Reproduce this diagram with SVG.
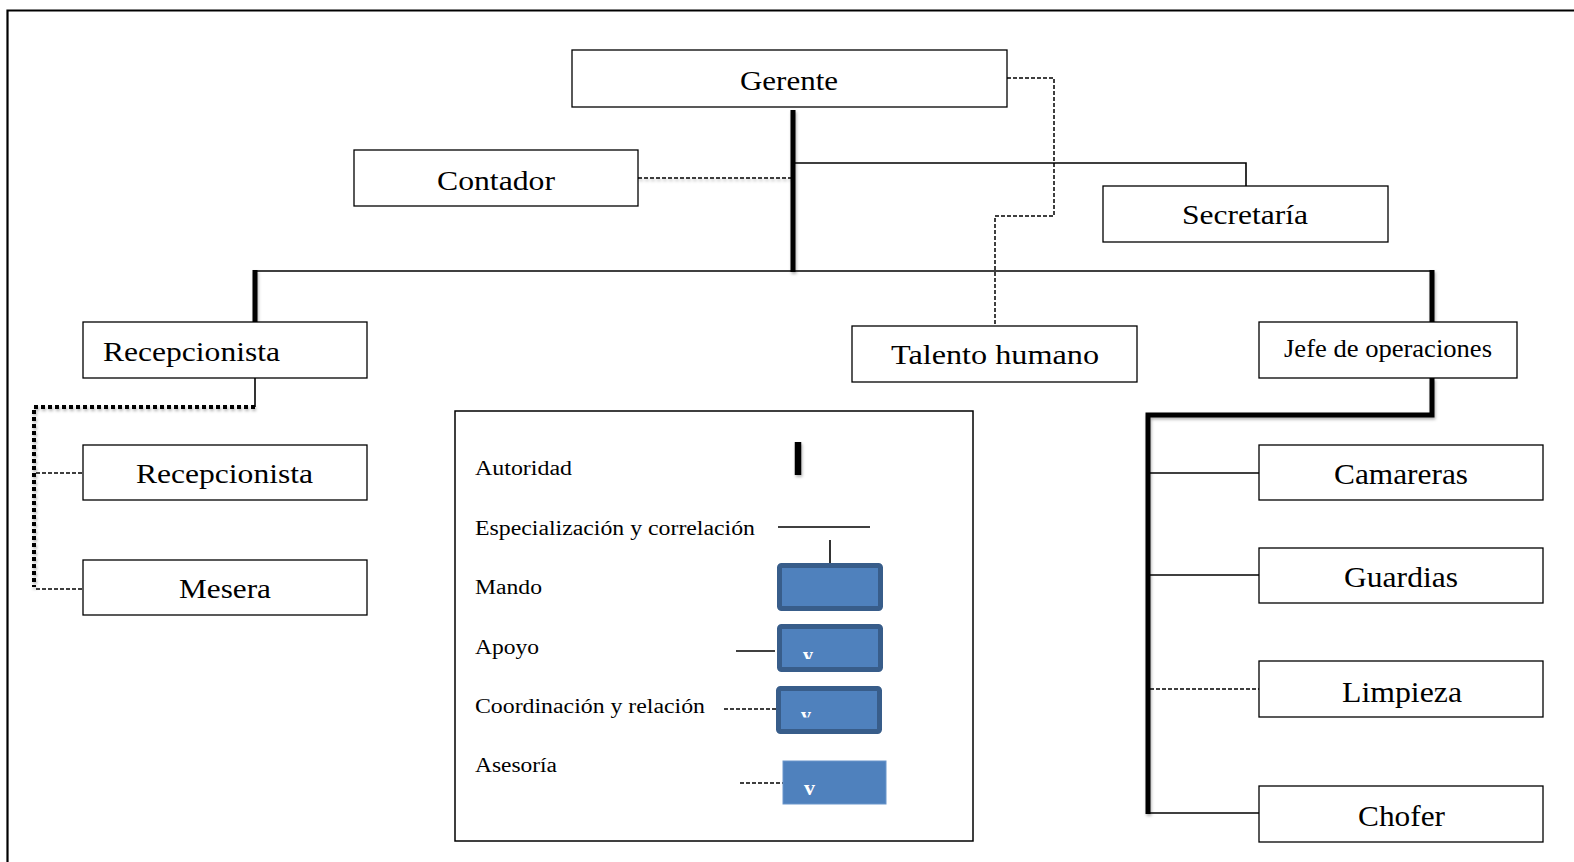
<svg xmlns="http://www.w3.org/2000/svg" width="1574" height="862" viewBox="0 0 1574 862">
  <defs>
    <filter id="shadow" filterUnits="userSpaceOnUse" x="0" y="0" width="1574" height="862">
      <feDropShadow dx="1" dy="2" stdDeviation="1.5" flood-color="#000" flood-opacity="0.3"/>
    </filter>
    <clipPath id="clipApoyo"><rect x="780" y="640" width="100" height="19"/></clipPath>
    <clipPath id="clipCoord"><rect x="780" y="700" width="100" height="17.5"/></clipPath>
  </defs>
  <style>
    .box{fill:#fff;stroke:#000;stroke-width:1.3}
    .lbl{font-family:"Liberation Serif","Times New Roman",serif;fill:#000}
    .big{font-size:28px}
    .leg{font-size:20px}
    .thick{stroke:#000;stroke-width:5;fill:none}
    .thin{stroke:#000;stroke-width:1.6;fill:none}
    .dash{stroke:#000;stroke-width:1.5;fill:none;stroke-dasharray:4 2}
    .dots{stroke:#000;stroke-width:4;fill:none;stroke-dasharray:4 3}
    .sym{fill:#4F81BD;stroke:#385D8A;stroke-width:5}
    .vmark{font-family:"Liberation Serif","Times New Roman",serif;fill:#fff;font-weight:bold}
  </style>

  <rect width="1574" height="862" fill="#fff"/>
  <!-- page frame -->
  <path d="M7.5,862 V10.5 H1574" fill="none" stroke="#000" stroke-width="2.2"/>

  <!-- connectors -->
  <g id="connectors">
    <!-- Gerente trunk and main branch -->
    <path class="thick" d="M793,110 V272" filter="url(#shadow)"/>
    <path class="thin" d="M254,271 H1434"/>
    <path class="thick" d="M255,270 V322" filter="url(#shadow)"/>
    <path class="thick" d="M1432,270 V322" filter="url(#shadow)"/>
    <!-- Secretaría -->
    <path class="thin" d="M795,163 H1246 V186"/>
    <!-- Contador -->
    <path class="dash" d="M638,178 H791" filter="url(#shadow)"/>
    <!-- Gerente to Talento humano -->
    <path class="dash" d="M1007,78 H1054 V216 H995 V326"/>
    <!-- Recepcionista branch -->
    <path class="thin" d="M255,378 V407"/>
    <path class="dots" d="M255,407 H34 V587" filter="url(#shadow)"/>
    <path class="dash" d="M36,473 H83"/>
    <path class="dash" d="M36,589 H83"/>
    <!-- Jefe de operaciones branch -->
    <path class="thick" d="M1432,378 V415 H1148 V814" filter="url(#shadow)"/>
    <path class="thin" d="M1150,473 H1259"/>
    <path class="thin" d="M1150,575 H1259"/>
    <path class="dash" d="M1150,689 H1259"/>
    <path class="thin" d="M1150,813 H1259"/>
  </g>

  <g id="gerente">
    <rect class="box" x="572" y="50" width="435" height="57"/>
    <text class="lbl big" x="740" y="90" textLength="98" lengthAdjust="spacingAndGlyphs">Gerente</text>
  </g>
  <g id="contador">
    <rect class="box" x="354" y="150" width="284" height="56"/>
    <text class="lbl big" x="437" y="190" textLength="118" lengthAdjust="spacingAndGlyphs">Contador</text>
  </g>
  <g id="secretaria">
    <rect class="box" x="1103" y="186" width="285" height="56"/>
    <text class="lbl big" x="1182" y="224" textLength="126" lengthAdjust="spacingAndGlyphs">Secretaría</text>
  </g>
  <g id="recepcionista">
    <rect class="box" x="83" y="322" width="284" height="56"/>
    <text class="lbl big" x="103" y="361" textLength="177" lengthAdjust="spacingAndGlyphs">Recepcionista</text>
  </g>
  <g id="talento-humano">
    <rect class="box" x="852" y="326" width="285" height="56"/>
    <text class="lbl big" x="891" y="364" textLength="208" lengthAdjust="spacingAndGlyphs">Talento humano</text>
  </g>
  <g id="jefe-operaciones">
    <rect class="box" x="1259" y="322" width="258" height="56"/>
    <text class="lbl" font-size="25" x="1284" y="357" textLength="208" lengthAdjust="spacingAndGlyphs">Jefe de operaciones</text>
  </g>
  <g id="recepcionista-2">
    <rect class="box" x="83" y="445" width="284" height="55"/>
    <text class="lbl big" x="136" y="483" textLength="177" lengthAdjust="spacingAndGlyphs">Recepcionista</text>
  </g>
  <g id="mesera">
    <rect class="box" x="83" y="560" width="284" height="55"/>
    <text class="lbl big" x="179" y="598" textLength="92" lengthAdjust="spacingAndGlyphs">Mesera</text>
  </g>
  <g id="camareras">
    <rect class="box" x="1259" y="445" width="284" height="55"/>
    <text class="lbl" font-size="30" x="1334" y="484" textLength="134" lengthAdjust="spacingAndGlyphs">Camareras</text>
  </g>
  <g id="guardias">
    <rect class="box" x="1259" y="548" width="284" height="55"/>
    <text class="lbl" font-size="30" x="1344" y="587" textLength="114" lengthAdjust="spacingAndGlyphs">Guardias</text>
  </g>
  <g id="limpieza">
    <rect class="box" x="1259" y="661" width="284" height="56"/>
    <text class="lbl" font-size="30" x="1342" y="702" textLength="120" lengthAdjust="spacingAndGlyphs">Limpieza</text>
  </g>
  <g id="chofer">
    <rect class="box" x="1259" y="786" width="284" height="56"/>
    <text class="lbl" font-size="30" x="1358" y="826" textLength="87" lengthAdjust="spacingAndGlyphs">Chofer</text>
  </g>

  <!-- legend -->
  <g id="legend">
    <rect x="455" y="411" width="518" height="430" fill="#fff" stroke="#000" stroke-width="1.5"/>
    <text class="lbl leg" x="475" y="475" textLength="97" lengthAdjust="spacingAndGlyphs">Autoridad</text>
    <text class="lbl leg" x="475" y="535" textLength="280" lengthAdjust="spacingAndGlyphs">Especialización y correlación</text>
    <text class="lbl leg" x="475" y="594" textLength="67" lengthAdjust="spacingAndGlyphs">Mando</text>
    <text class="lbl leg" x="475" y="654" textLength="64" lengthAdjust="spacingAndGlyphs">Apoyo</text>
    <text class="lbl leg" x="475" y="713" textLength="230" lengthAdjust="spacingAndGlyphs">Coordinación y relación</text>
    <text class="lbl leg" x="475" y="772" textLength="82" lengthAdjust="spacingAndGlyphs">Asesoría</text>

    <!-- authority -->
    <path d="M798,442 V475" stroke="#000" stroke-width="6.5" filter="url(#shadow)"/>
    <!-- specialisation -->
    <path class="thin" d="M778,527 H870"/>
    <!-- command -->
    <path class="thin" d="M830,540 V565"/>
    <rect class="sym" x="779.5" y="565.5" width="101" height="43" rx="2"/>
    <!-- support -->
    <path class="thin" d="M736,651 H775"/>
    <rect class="sym" x="779.5" y="626.5" width="101" height="43" rx="2"/>
    <text class="vmark" font-size="20" x="803" y="662" clip-path="url(#clipApoyo)">v</text>
    <!-- coordination -->
    <path class="dash" d="M724,709 H777"/>
    <rect class="sym" x="778.5" y="688.5" width="101" height="43" rx="2"/>
    <text class="vmark" font-size="20" x="801" y="722" clip-path="url(#clipCoord)">v</text>
    <!-- advisory -->
    <path class="dash" d="M740,783 H783" stroke-dasharray="1 4 6 3 6 3 6 3"/>
    <rect x="783" y="761" width="103" height="43" fill="#4F81BD" stroke="#6A96CB" stroke-width="1"/>
    <text class="vmark" font-size="22" x="804" y="795">v</text>
  </g>
</svg>
